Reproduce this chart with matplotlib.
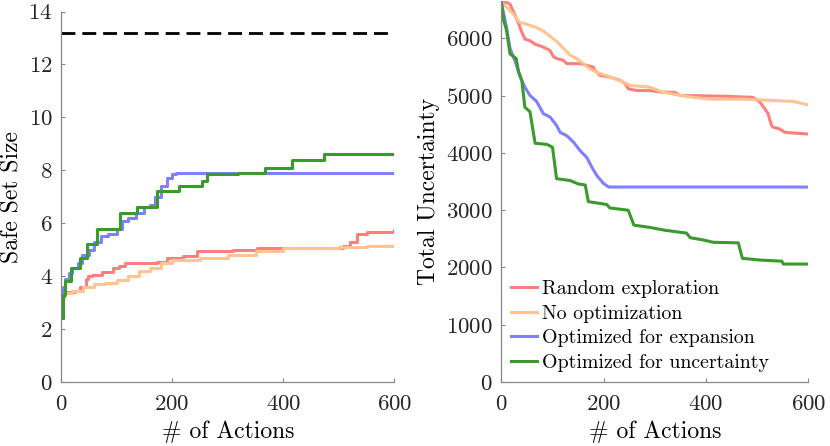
import numpy as np
import matplotlib
matplotlib.use("Agg")
import matplotlib.pyplot as plt

plt.rcParams['font.family'] = ['cmr10', 'DejaVu Serif']
plt.rcParams['mathtext.fontset'] = 'cm'
plt.rcParams['axes.formatter.use_mathtext'] = True

# colours of the four methods
c_rand = '#ff7f7f'
c_noopt = '#ffc48f'
c_exp = '#7f7fff'
c_unc = '#3a9a2c'

safe_max = 13.2

# left panel: safe set size (step curves)
rand_ss_x = [0, 5, 25, 35, 45, 49, 56, 74, 94, 105, 115, 172, 190, 220, 244, 310, 352, 490, 508, 520, 532, 550, 600]
rand_ss_y = [3.2, 3.4, 3.45, 3.6, 3.9, 4.0, 4.05, 4.15, 4.3, 4.4, 4.5, 4.55, 4.7, 4.75, 4.95, 5.0, 5.05, 5.05, 5.15, 5.3, 5.6, 5.65, 5.75]
noopt_ss_x = [0, 20, 40, 60, 80, 100, 120, 140, 160, 180, 200, 250, 300, 350, 400, 450, 500, 550, 600]
noopt_ss_y = [3.35, 3.45, 3.6, 3.7, 3.75, 3.85, 4.0, 4.2, 4.3, 4.5, 4.6, 4.7, 4.8, 4.95, 5.05, 5.05, 5.1, 5.15, 5.18]
exp_ss_x = [0, 3, 8, 15, 20, 30, 38, 50, 60, 72, 85, 100, 110, 120, 135, 150, 160, 170, 180, 190, 200, 207, 600]
exp_ss_y = [2.4, 3.6, 3.9, 4.1, 4.3, 4.5, 4.8, 5.0, 5.3, 5.5, 5.6, 5.8, 6.1, 6.2, 6.4, 6.6, 6.7, 7.0, 7.4, 7.7, 7.85, 7.9, 7.9]
unc_ss_x = [0, 3, 7, 18, 34, 47, 64, 107, 137, 172, 213, 253, 262, 319, 367, 416, 473, 600]
unc_ss_y = [2.4, 3.3, 3.8, 4.3, 4.7, 5.2, 5.8, 6.4, 6.6, 7.2, 7.4, 7.6, 7.85, 7.9, 8.1, 8.4, 8.6, 8.6]

# right panel: total uncertainty
rand_u_x = [0, 10, 17, 23, 33, 40, 46, 56, 66, 82, 95, 102, 108, 121, 128, 154, 167, 180, 183, 193, 212, 232, 242, 248, 265, 290, 316, 339, 349, 440, 492, 505, 515, 521, 528, 531, 544, 554, 600]
rand_u_y = [6640, 6630, 6600, 6480, 6280, 6110, 5990, 5960, 5900, 5850, 5790, 5680, 5650, 5620, 5560, 5560, 5530, 5500, 5440, 5355, 5325, 5270, 5210, 5120, 5090, 5090, 5060, 5060, 5005, 4990, 4970, 4890, 4770, 4690, 4480, 4450, 4420, 4360, 4330]
noopt_u_x = [0, 10, 23, 36, 49, 69, 82, 95, 108, 121, 134, 147, 160, 173, 186, 212, 238, 251, 290, 316, 342, 375, 408, 473, 525, 570, 600]
noopt_u_y = [6630, 6550, 6430, 6280, 6250, 6190, 6130, 6040, 5950, 5830, 5710, 5650, 5560, 5470, 5410, 5330, 5240, 5180, 5150, 5060, 5020, 4970, 4940, 4940, 4920, 4900, 4840]
exp_u_x = [0, 10, 17, 27, 37, 46, 56, 69, 82, 95, 108, 115, 128, 141, 154, 167, 177, 187, 200, 210, 600]
exp_u_y = [6630, 6200, 5830, 5600, 5325, 5150, 5005, 4900, 4686, 4630, 4480, 4360, 4300, 4190, 4040, 3920, 3750, 3600, 3465, 3405, 3405]
unc_u_x = [0, 5, 10, 17, 29, 32, 34, 40, 46, 56, 66, 89, 100, 108, 134, 150, 164, 170, 206, 212, 248, 259, 290, 320, 362, 369, 395, 414, 463, 471, 505, 548, 551, 600]
unc_u_y = [6630, 6300, 6150, 5730, 5650, 5500, 5410, 5270, 4800, 4720, 4170, 4150, 4100, 3550, 3520, 3460, 3440, 3150, 3100, 3040, 3000, 2740, 2700, 2650, 2600, 2520, 2480, 2440, 2430, 2160, 2130, 2110, 2060, 2060]

labels = ['Random exploration', 'No optimization', 'Optimized for expansion', 'Optimized for uncertainty']

fig = plt.figure(figsize=(8.3, 4.46), dpi=100)
ax1 = fig.add_axes([0.0735, 0.1435, 0.4018, 0.8307])
ax2 = fig.add_axes([0.604, 0.1435, 0.370, 0.855])

lw = 2.2
ax1.axhline(safe_max, color='black', lw=2, ls=(0, (5, 2.5)))
ax1.step(rand_ss_x, rand_ss_y, where='post', color=c_rand, lw=lw)
ax1.step(noopt_ss_x, noopt_ss_y, where='post', color=c_noopt, lw=lw)
ax1.step(exp_ss_x, exp_ss_y, where='post', color=c_exp, lw=lw)
ax1.step(unc_ss_x, unc_ss_y, where='post', color=c_unc, lw=lw)
ax1.set_xlim(0, 600)
ax1.set_ylim(0, 14)
ax1.set_xticks([0, 200, 400, 600])
ax1.set_yticks(np.arange(0, 15, 2))
ax1.set_ylabel('Safe Set Size', fontsize=17)
ax1.yaxis.set_label_coords(-0.112, 0.5)
ax1.set_xlabel('# of Actions', fontsize=17, labelpad=5)

ax2.plot(rand_u_x, rand_u_y, color=c_rand, lw=lw, label=labels[0])
ax2.plot(noopt_u_x, noopt_u_y, color=c_noopt, lw=lw, label=labels[1])
ax2.plot(exp_u_x, exp_u_y, color=c_exp, lw=lw, label=labels[2])
ax2.plot(unc_u_x, unc_u_y, color=c_unc, lw=lw, label=labels[3])
ax2.set_xlim(0, 600)
ax2.set_ylim(0, 6660)
ax2.set_xticks([0, 200, 400, 600])
ax2.set_yticks(np.arange(0, 7000, 1000))
ax2.set_ylabel('Total Uncertainty', fontsize=17)
ax2.yaxis.set_label_coords(-0.199, 0.5)
ax2.set_xlabel('# of Actions', fontsize=17, labelpad=5)
ax2.legend(loc='lower left', bbox_to_anchor=(0.0, 0.0), frameon=False, fontsize=14.3,
           handlelength=1.3, handletextpad=0.25, labelspacing=0.34, borderaxespad=0.1)

for ax in (ax1, ax2):
    for s in ('top', 'right'):
        ax.spines[s].set_visible(False)
    for s in ('left', 'bottom'):
        ax.spines[s].set_color('#888888')
        ax.spines[s].set_linewidth(0.9)
    ax.tick_params(direction='in', length=3, color='#888888', labelsize=16.5, labelcolor='#262626')
    ax.tick_params(axis='x', pad=9)
    ax.tick_params(axis='y', pad=6)

fig.savefig('out.png', dpi=100)
